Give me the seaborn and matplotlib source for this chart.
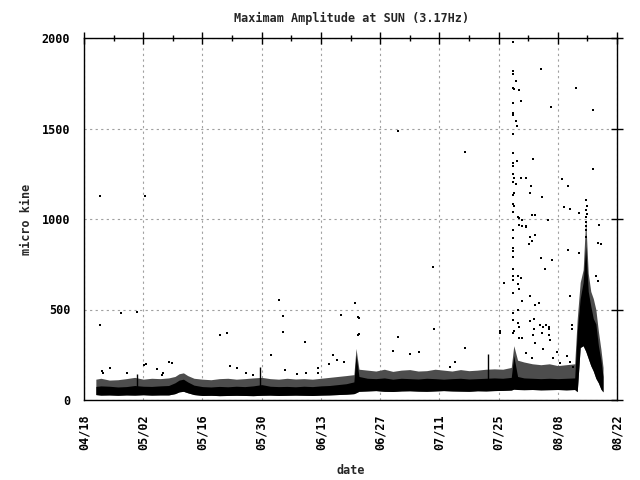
import pandas as pd
import matplotlib
matplotlib.use("Agg")
import matplotlib.pyplot as plt
import seaborn as sns

# first tick of the date axis; all days below are offsets from it
start = pd.Timestamp("2011-04-18")

# envelope of the dense cloud of samples (micro kine)
band_day = [2.8, 4, 6, 8, 10, 12, 14, 16, 18, 20,
            21.5, 22.5, 23.5, 24.5, 26,
            28, 30, 32, 34, 36, 38, 40,
            42, 44, 46, 48, 50, 52, 54, 56, 58, 60, 62,
            63.8, 64.3, 65,
            67, 69, 71, 73, 75, 77, 79, 81, 83, 85, 87, 89, 91, 93, 95, 97, 99,
            101, 101.6, 102.5,
            104, 106, 108, 110, 112, 114, 116,
            116.6, 117.3, 118, 118.6, 119.2, 119.8, 120.4, 121, 121.6, 122.2, 122.7]
band_low = [30, 27, 28, 26, 28, 27, 29, 27, 28, 28,
            35, 45, 48, 40, 30,
            25, 26, 24, 25, 26, 25, 24,
            26, 27, 25, 26, 27, 26, 25, 27, 28, 30, 32,
            35, 40, 48,
            50, 52, 48, 47, 50, 51, 49, 48, 50, 52, 50, 49, 48, 51, 50, 52, 53,
            55, 60, 58,
            57, 58, 56, 57, 58, 56, 58,
            46, 290, 300, 270, 230, 190, 160, 120, 95, 60, 45]
band_core = [75, 78, 76, 72, 74, 80, 76, 75, 78, 80,
             95, 110, 115, 100, 82,
             74, 72, 75, 73, 76, 74, 78,
             85, 76, 74, 75, 73, 76, 74, 78, 80, 85, 90,
             100, 250, 130,
             120, 118, 122, 115, 120, 118, 116, 120, 118, 115, 118, 120, 116, 118, 120, 122, 120,
             125, 245, 130,
             122, 120, 118, 120, 118, 120, 122,
             380, 560, 650, 850, 600, 520, 450, 420, 300, 220, 130]
band_halo = [115, 120, 110, 112, 118, 125, 115, 120, 118, 122,
             130, 145, 150, 135, 120,
             115, 112, 118, 120, 115, 118, 122,
             125, 118, 115, 120, 116, 118, 115, 120, 125, 130, 135,
             140, 285, 170,
             165, 160, 170, 158, 165, 168, 160, 162, 170, 165, 160, 168, 162, 165, 170, 172, 170,
             180, 300, 220,
             210, 200, 195, 200, 190, 195, 200,
             450, 650, 720, 1000, 700, 600, 560, 500, 380, 280, 180]

# short isolated spikes
spike_day = [12.6, 41.5, 95.6]
spike_top = [143, 184, 252]

# scattered single samples (day, amplitude)
early_dots = [(3.9, 1125), (14.5, 1125), (8.8, 479), (12.6, 484), (3.9, 413), (46.2, 551),
              (47.1, 462), (47.1, 374), (32.2, 357), (33.9, 368), (60.8, 468), (52.2, 322),
              (44.2, 247), (65.0, 363), (58.9, 249), (58.0, 197), (59.7, 221), (61.4, 212),
              (20.2, 210), (20.7, 203), (14.3, 193), (14.6, 199), (17.2, 170), (18.5, 138),
              (18.7, 147), (4.3, 158), (4.6, 147), (6.2, 175), (10.2, 151), (34.5, 190),
              (36.1, 175), (38.4, 151), (40.0, 140), (47.4, 166), (50.3, 142), (52.5, 151),
              (55.4, 175), (55.2, 147)]
mid_dots = [(74.3, 1484), (90.1, 1368), (82.6, 733), (64.1, 534), (64.8, 457), (64.8, 357),
            (74.3, 346), (82.8, 391), (99.4, 645), (98.4, 380), (73.1, 272), (77.1, 254),
            (79.3, 267), (90.1, 285), (87.7, 212), (86.5, 184), (98.3, 372), (64.9, 451)]
burst_amp = [1976, 1816, 1800, 1722, 1639, 1584, 1573, 1468, 1366, 1308, 1291, 1247, 1203,
             1131, 1081, 1037, 939, 893, 838, 825, 792, 725, 687, 663, 593, 479, 442, 368]
burst_dots = [(101.7, 1716), (101.7, 1225), (101.7, 1142), (101.7, 1070), (101.7, 380),
              (102.2, 1761), (102.2, 1541), (102.2, 1192),
              (102.4, 1319), (102.4, 1512), (102.5, 687), (102.6, 639), (102.6, 496), (102.6, 424),
              (102.9, 1711), (102.9, 1004), (102.9, 965), (102.9, 612), (102.7, 1009), (102.9, 402),
              (102.9, 341),
              (103.2, 1650), (103.3, 1225), (103.6, 993), (103.4, 674), (103.6, 545), (103.6, 963),
              (103.5, 344),
              (104.5, 1225), (104.6, 960), (104.6, 958), (104.6, 258),
              (105.7, 1181), (105.5, 1142), (105.5, 573), (105.4, 899), (105.3, 860), (105.4, 435),
              (105.8, 230),
              (106.2, 1330), (106.0, 1020), (106.7, 1020), (106.6, 910), (106.0, 877), (106.7, 523),
              (106.1, 359), (106.5, 313), (106.4, 446), (106.3, 391),
              (108.1, 1827), (108.3, 1120), (108.0, 783), (108.9, 722), (108.5, 402), (109.3, 416),
              (107.8, 414), (108.6, 280), (108.2, 368),
              (109.8, 993), (110.6, 772), (107.6, 534), (110.0, 402), (110.0, 357), (110.2, 331),
              (110.9, 230), (109.9, 391),
              (110.4, 1617), (111.7, 267), (112.5, 203), (113.1, 1219), (113.5, 1065), (114.3, 1181),
              (114.3, 827), (114.1, 243), (115.0, 1054), (115.0, 573), (115.4, 413), (115.4, 391),
              (114.9, 212), (115.7, 184), (116.2, 1722)]
tail_dots = [(117.1, 1031), (117.1, 810), (118.7, 1103), (119.0, 1070), (119.0, 1026),
             (118.6, 960), (118.6, 982), (118.6, 1105), (118.6, 1050), (118.6, 1010),
             (118.6, 940), (118.6, 900), (120.4, 1600), (120.4, 1275), (121.8, 965),
             (121.4, 866), (122.3, 860), (121.1, 683), (121.4, 656)]

x_ticks = pd.date_range(start, periods=10, freq="14D")
x_minor = pd.date_range(start, periods=19, freq="7D")
y_ticks = [0, 500, 1000, 1500, 2000]

sns.set_style("white")
plt.rcParams["font.family"] = ["DejaVu Sans Mono"]
plt.rcParams["font.weight"] = "bold"
plt.rcParams["font.size"] = 8.5

band = pd.DataFrame({"date": start + pd.to_timedelta(band_day, unit="D"),
                     "low": band_low, "core": band_core, "halo": band_halo})
all_dots = early_dots + mid_dots + [(101.5, a) for a in burst_amp] + burst_dots + tail_dots
dots = pd.DataFrame(all_dots, columns=["day", "amp"])
dots["date"] = start + pd.to_timedelta(dots["day"], unit="D")
spikes = pd.DataFrame({"date": start + pd.to_timedelta(spike_day, unit="D"), "top": spike_top})

fig = plt.figure(figsize=(6.4, 4.8), dpi=100)
ax = fig.add_axes([84 / 640, 80 / 480, 533 / 640, 362 / 480])

# speckled upper part of the cloud, then the solid core
ax.fill_between(band["date"], band["low"], band["halo"], color="0.3", linewidth=0, zorder=2)
ax.fill_between(band["date"], band["low"], band["core"], color="black", linewidth=0, zorder=3)
ax.vlines(spikes["date"], 60, spikes["top"], color="black", linewidth=1, zorder=3)
sns.scatterplot(data=dots, x="date", y="amp", color="black", s=1, marker="s",
                linewidth=0, ax=ax, legend=False, zorder=4)

ax.set_xlim(x_ticks[0], x_ticks[-1])
ax.set_ylim(0, 2000)
ax.set_xticks(x_ticks)
ax.set_xticks(x_minor, minor=True)
ax.set_xticklabels([d.strftime("%m/%d") for d in x_ticks], rotation=90)
ax.set_yticks(y_ticks)
ax.set_yticklabels([str(v) for v in y_ticks])

ax.set_axisbelow(True)
ax.grid(True, which="major", color="#a0a0a0", linestyle=(0, (2, 3)), linewidth=0.8)
for s in ax.spines.values():
    s.set_color("black")
    s.set_linewidth(1)
ax.tick_params(which="both", direction="inout", top=True, right=True,
               labeltop=False, labelright=False, color="black", labelcolor="black")
ax.tick_params(which="major", length=8, width=1, pad=6)
ax.tick_params(which="minor", length=4, width=1)

ax.set_xlabel("date", fontweight="bold")
ax.set_ylabel("micro kine", fontweight="bold")
ax.xaxis.set_label_coords(0.5, -70 / 362)
ax.yaxis.set_label_coords(-57 / 533, 0.5)
ax.xaxis.label.set_va("center")
ax.yaxis.label.set_va("center")

fig.text(352 / 640, 1 - 18 / 480, "Maximam Amplitude at SUN (3.17Hz)",
         ha="center", va="center", fontweight="bold")

fig.savefig("out.png", dpi=100, facecolor="white")
